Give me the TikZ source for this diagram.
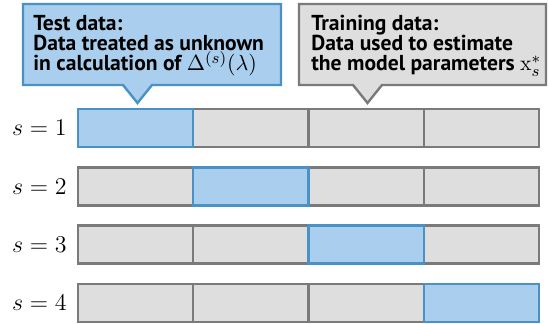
\documentclass[tikz,border=0pt]{standalone}
\usepackage{fontspec}
\setsansfont{PT Sans}
\usepackage{amsmath}

\definecolor{testfill}{RGB}{170,207,238}
\definecolor{testline}{RGB}{74,146,198}
\definecolor{trainfill}{RGB}{221,222,221}
\definecolor{trainline}{RGB}{122,122,122}

\begin{document}
\begin{tikzpicture}[x=0.5pt,y=-0.5pt,
  cell/.style={draw=trainline,fill=trainfill,line width=1.2pt,
    minimum width=57.6pt,minimum height=19pt,inner sep=0pt},
  testcell/.style={cell,draw=testline,fill=testfill},
  testbubble/.style={draw=testline,fill=testfill,line width=1.2pt,line join=miter},
  trainbubble/.style={draw=trainline,fill=trainfill,line width=1.2pt,line join=miter},
  bubbletext/.style={anchor=base west,align=left,inner sep=0pt,
    font=\sffamily\bfseries\fontsize{10.8}{10.2}\selectfont},
  rowlabel/.style={anchor=east,inner sep=0pt,font=\fontsize{12.4}{14}\selectfont}]
\useasboundingbox (0,0) rectangle (549,324);

% callouts
\draw[testbubble] (23,4) -- (281,4) -- (281,85) -- (152,85) -- (137.5,103)
  -- (123,85) -- (23,85) -- cycle;
\draw[trainbubble] (299,4) -- (546,4) -- (546,85) -- (382,85) -- (367.5,103)
  -- (353,85) -- (299,85) -- cycle;
% texts are placed by the baseline of their last line
\node[bubbletext] (testtxt) at (33,71)
  {Test data:\\Data treated as unknown\\in calculation of $\Delta^{(s)}(\lambda)$};
\node[bubbletext] (traintxt) at (311,71)
  {Training data:\\Data used to estimate\\the model parameters $\mathrm{x}_s^{*}$};

% folds: gray cells first, the test cell of each row on top
\foreach \r/\y in {1/128,2/186.5,3/244.5,4/303}{
  \node[rowlabel] (lab\r) at (67,\y) {$s=\r$};
  \foreach \c in {1,...,4}{
    \node[cell] (c\r\c) at ({78+115.25*(\c-0.5)},\y) {};
  }
}
\foreach \r/\y in {1/128,2/186.5,3/244.5,4/303}{
  \node[testcell] (t\r) at ({78+115.25*(\r-0.5)},\y) {};
}
\end{tikzpicture}
\end{document}
